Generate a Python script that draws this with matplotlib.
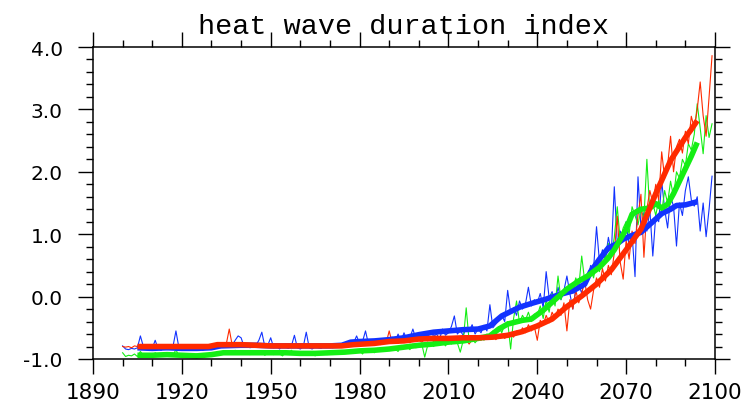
# heat wave duration index - three runs, annual values and smoothed curves

import numpy as np
from matplotlib import pyplot as plt
from matplotlib.ticker import MultipleLocator, FormatStrFormatter

# Annual values 1900-2099

years = np.arange(1900, 2100)

blue_annual = [
    -0.79, -0.84, -0.85, -0.83, -0.84, -0.82, -0.63, -0.80, -0.85, -0.84,
    -0.83, -0.70, -0.84, -0.86, -0.82, -0.85, -0.83, -0.80, -0.55, -0.82,
    -0.85, -0.83, -0.86, -0.84, -0.82, -0.85, -0.83, -0.86, -0.84, -0.82,
    -0.80, -0.83, -0.78, -0.82, -0.80, -0.79, -0.81, -0.78, -0.70, -0.63,
    -0.66, -0.80, -0.78, -0.82, -0.80, -0.78, -0.70, -0.57, -0.80, -0.78,
    -0.66, -0.82, -0.80, -0.84, -0.78, -0.81, -0.83, -0.79, -0.62, -0.82,
    -0.84, -0.80, -0.57, -0.82, -0.84, -0.80, -0.82, -0.83, -0.79, -0.81,
    -0.80, -0.82, -0.78, -0.80, -0.76, -0.79, -0.74, -0.78, -0.74, -0.63,
    -0.75, -0.72, -0.55, -0.76, -0.73, -0.70, -0.75, -0.68, -0.72, -0.74,
    -0.70, -0.65, -0.73, -0.60, -0.72, -0.58, -0.70, -0.66, -0.52, -0.68,
    -0.62, -0.70, -0.58, -0.66, -0.55, -0.64, -0.60, -0.68, -0.52, -0.62,
    -0.58, -0.48, -0.31, -0.60, -0.55, -0.62, -0.50, -0.56, -0.45, -0.60,
    -0.52, -0.58, -0.46, -0.55, -0.13, -0.50, -0.44, -0.38, -0.30, -0.40,
    0.10, -0.25, -0.18, -0.30, -0.07, -0.20, -0.12, 0.15, -0.15, -0.05,
    -0.10, 0.05, -0.18, 0.40, -0.02, 0.08, -0.10, 0.15, -0.05, 0.10,
    0.33, 0.05, -0.20, 0.12, 0.20, 0.05, 0.30, 0.25, 0.50, 0.45,
    1.12, 0.55, 0.75, 0.60, 0.95, 0.70, 1.76, 0.85, 1.05, 0.90,
    1.20, 0.80, 1.00, 0.32, 1.92, 1.10, 1.35, 1.05, 1.40, 0.65,
    1.30, 1.20, 1.85, 1.40, 1.10, 1.60, 1.45, 0.81, 1.50, 1.30,
    1.70, 1.92, 1.55, 1.45, 1.60, 1.05, 1.50, 0.96, 1.40, 1.93,
]

green_annual = [
    -0.90, -0.96, -0.94, -0.95, -0.92, -0.96, -0.88, -0.94, -0.97, -0.93,
    -0.95, -0.90, -0.94, -0.96, -0.93, -0.95, -0.92, -0.94, -0.85, -0.95,
    -0.94, -0.96, -0.93, -0.95, -0.97, -0.92, -0.95, -0.94, -0.96, -0.93,
    -0.92, -0.94, -0.88, -0.93, -0.90, -0.92, -0.89, -0.91, -0.86, -0.92,
    -0.90, -0.92, -0.88, -0.93, -0.90, -0.87, -0.92, -0.89, -0.94, -0.91,
    -0.90, -0.93, -0.88, -0.92, -0.95, -0.89, -0.91, -0.86, -0.93, -0.90,
    -0.92, -0.88, -0.94, -0.90, -0.91, -0.95, -0.89, -0.92, -0.90, -0.93,
    -0.91, -0.88, -0.92, -0.90, -0.87, -0.91, -0.89, -0.86, -0.90, -0.88,
    -0.86, -0.92, -0.84, -0.88, -0.85, -0.90, -0.83, -0.87, -0.85, -0.82,
    -0.86, -0.80, -0.84, -0.88, -0.78, -0.83, -0.80, -0.85, -0.76, -0.82,
    -0.80, -0.76, -0.97, -0.78, -0.74, -0.80, -0.70, -0.77, -0.72, -0.79,
    -0.72, -0.76, -0.68, -0.74, -0.89, -0.70, -0.18, -0.72, -0.66, -0.74,
    -0.68, -0.62, -0.70, -0.60, -0.65, -0.55, -0.62, -0.48, -0.58, -0.45,
    -0.40, -0.84, -0.35, -0.07, -0.42, -0.30, -0.38, -0.25, -0.40, -0.28,
    -0.30, -0.15, -0.35, -0.05, -0.25, 0.05, -0.15, 0.33, -0.05, 0.10,
    0.05, 0.20, 0.10, 0.30, 0.15, 0.65, 0.25, 0.35, 0.45, 0.30,
    0.55, 0.40, 0.70, 0.60, 0.85, 0.65, 0.95, 1.44, 0.90, 1.10,
    1.20, 1.00, 1.44, 1.30, 1.15, 1.40, 1.25, 2.20, 1.35, 1.50,
    1.30, 1.55, 1.35, 1.70, 1.50, 1.85, 1.60, 2.00, 1.90, 2.20,
    2.10, 2.45, 2.35, 2.60, 3.09, 2.70, 2.29, 2.90, 2.55, 2.77,
]

red_annual = [
    -0.80, -0.81, -0.80, -0.82, -0.79, -0.80, -0.81, -0.79, -0.80, -0.82,
    -0.80, -0.79, -0.81, -0.80, -0.82, -0.79, -0.80, -0.81, -0.78, -0.80,
    -0.81, -0.79, -0.80, -0.82, -0.80, -0.79, -0.81, -0.80, -0.78, -0.80,
    -0.78, -0.80, -0.77, -0.79, -0.78, -0.76, -0.52, -0.78, -0.77, -0.79,
    -0.78, -0.76, -0.79, -0.77, -0.78, -0.80, -0.76, -0.78, -0.77, -0.79,
    -0.78, -0.80, -0.77, -0.79, -0.78, -0.76, -0.80, -0.78, -0.79, -0.77,
    -0.79, -0.78, -0.80, -0.77, -0.79, -0.78, -0.80, -0.79, -0.77, -0.78,
    -0.79, -0.77, -0.80, -0.78, -0.79, -0.77, -0.78, -0.76, -0.79, -0.77,
    -0.78, -0.75, -0.77, -0.74, -0.78, -0.76, -0.73, -0.77, -0.75, -0.74,
    -0.55, -0.74, -0.72, -0.75, -0.70, -0.73, -0.71, -0.74, -0.69, -0.72,
    -0.70, -0.73, -0.68, -0.71, -0.67, -0.72, -0.69, -0.66, -0.70, -0.68,
    -0.70, -0.66, -0.69, -0.72, -0.65, -0.68, -0.70, -0.76, -0.69, -0.64,
    -0.67, -0.70, -0.63, -0.68, -0.66, -0.62, -0.69, -0.64, -0.60, -0.67,
    -0.62, -0.58, -0.65, -0.55, -0.60, -0.50, -0.58, -0.45, -0.55, -0.48,
    -0.70, -0.38, -0.45, -0.30, -0.42, -0.25, -0.35, -0.20, -0.30, -0.10,
    -0.55, -0.05, -0.20, 0.10, -0.10, 0.05, 0.25, -0.05, -0.20, 0.10,
    0.30, 0.15, 0.45, 0.25, 0.50, 0.35, 0.70, 1.29, 0.55, 0.28,
    0.90, 0.60, 1.05, 0.85, 1.30, 1.64, 0.63, 1.40, 1.70, 1.50,
    1.80, 1.55, 2.32, 1.90, 2.10, 2.57, 2.00, 2.40, 2.52, 2.30,
    2.65, 2.45, 2.89, 2.70, 3.00, 3.44, 2.90, 2.57, 3.20, 3.86,
]

# Smoothed curves 1905-2094

blue_smooth_years = [1905, 1910, 1915, 1920, 1925, 1930, 1933, 1940, 1945, 1950,
                     1955, 1960, 1965, 1970, 1974, 1977, 1980, 1985, 1990, 1995,
                     2000, 2005, 2010, 2015, 2020, 2024, 2028, 2034, 2038, 2043,
                     2048, 2052, 2056, 2058, 2061, 2064, 2067, 2069, 2072, 2075,
                     2079, 2082, 2085, 2087, 2090, 2094]
blue_smooth = [-0.82, -0.83, -0.82, -0.83, -0.83, -0.82, -0.79, -0.78, -0.78, -0.79,
               -0.79, -0.79, -0.79, -0.79, -0.78, -0.73, -0.72, -0.71, -0.69, -0.66,
               -0.61, -0.57, -0.55, -0.53, -0.52, -0.47, -0.31, -0.17, -0.11, -0.04,
               0.04, 0.09, 0.20, 0.40, 0.60, 0.78, 0.85, 0.92, 0.98, 1.03,
               1.20, 1.33, 1.40, 1.46, 1.47, 1.52]

green_smooth_years = [1905, 1910, 1915, 1920, 1925, 1930, 1934, 1940, 1945, 1950,
                      1955, 1960, 1965, 1970, 1975, 1980, 1985, 1990, 1995, 2000,
                      2005, 2010, 2015, 2020, 2024, 2027, 2030, 2035, 2038, 2042,
                      2045, 2050, 2054, 2057, 2061, 2064, 2066, 2070, 2072, 2075,
                      2078, 2080, 2082, 2084, 2086, 2088, 2090, 2092, 2094]
green_smooth = [-0.94, -0.94, -0.93, -0.94, -0.95, -0.93, -0.90, -0.90, -0.90, -0.90,
                -0.90, -0.91, -0.91, -0.90, -0.89, -0.87, -0.86, -0.84, -0.81, -0.78,
                -0.76, -0.73, -0.71, -0.67, -0.63, -0.52, -0.44, -0.38, -0.36, -0.22,
                -0.09, 0.12, 0.25, 0.33, 0.47, 0.62, 0.75, 1.08, 1.32, 1.40,
                1.42, 1.49, 1.42, 1.48, 1.65, 1.85, 2.05, 2.25, 2.47]

red_smooth_years = [1905, 1910, 1915, 1920, 1925, 1929, 1932, 1940, 1945, 1950,
                    1955, 1960, 1965, 1970, 1974, 1978, 1985, 1990, 1995, 2000,
                    2005, 2010, 2015, 2020, 2025, 2030, 2035, 2040, 2045, 2050,
                    2055, 2060, 2065, 2070, 2075, 2080, 2085, 2090, 2092, 2094]
red_smooth = [-0.80, -0.80, -0.80, -0.80, -0.80, -0.80, -0.77, -0.77, -0.78, -0.79,
              -0.79, -0.79, -0.79, -0.79, -0.79, -0.77, -0.75, -0.72, -0.71, -0.68,
              -0.67, -0.67, -0.66, -0.66, -0.65, -0.62, -0.56, -0.47, -0.36, -0.16,
              0.01, 0.20, 0.43, 0.75, 1.08, 1.65, 2.18, 2.55, 2.68, 2.82]

blue = '#1232ff'
green = '#14ee14'
red = '#ff2a00'

fig = plt.figure(figsize=(7.47, 4.14), dpi=100)
ax = fig.add_axes([93 / 747, 1 - 360 / 414, 622 / 747, 312 / 414])

# thin annual lines first, smoothed curves on top
ax.plot(years, blue_annual, color=blue, lw=0.8)
ax.plot(years, green_annual, color=green, lw=0.8)
ax.plot(years, red_annual, color=red, lw=0.8)
ax.plot(blue_smooth_years, blue_smooth, color=blue, lw=4.0, solid_capstyle='butt')
ax.plot(green_smooth_years, green_smooth, color=green, lw=4.0, solid_capstyle='butt')
ax.plot(red_smooth_years, red_smooth, color=red, lw=4.0, solid_capstyle='butt')

ax.set_xlim(1890, 2100)
ax.set_ylim(-1.0, 4.0)

ax.xaxis.set_major_locator(MultipleLocator(30))
ax.xaxis.set_minor_locator(MultipleLocator(10))
ax.yaxis.set_major_locator(MultipleLocator(1.0))
ax.yaxis.set_minor_locator(MultipleLocator(0.2))
ax.yaxis.set_major_formatter(FormatStrFormatter('%.1f'))

for side in ax.spines.values():
    side.set_linewidth(1.1)

ax.tick_params(which='both', direction='out', top=True, right=True, width=1.0)
ax.tick_params(which='major', length=10.8)
ax.tick_params(which='minor', length=5.0)
ax.tick_params(axis='x', which='major', labelsize=15.5, pad=6)
ax.tick_params(axis='y', which='major', labelsize=14.5, pad=11)

for lab in ax.get_xticklabels() + ax.get_yticklabels():
    lab.set_family('DejaVu Sans')

# Plot title
ax.text(0.5, 1 + 14.5 / 312, 'heat wave duration index', transform=ax.transAxes,
        ha='center', va='baseline', fontsize=20.5, family='Liberation Mono')

plt.savefig('out.png', dpi=100)
